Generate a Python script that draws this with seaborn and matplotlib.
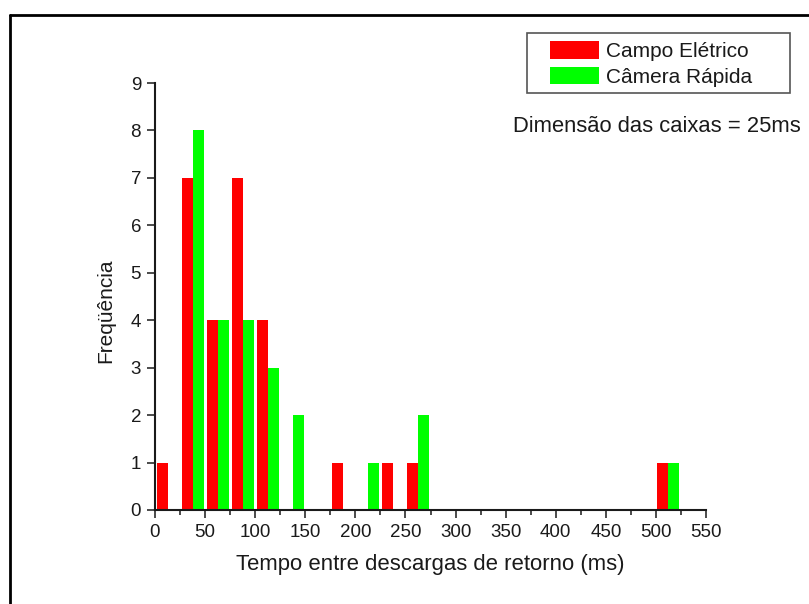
import pandas as pd
import matplotlib.pyplot as plt
from matplotlib.patches import Rectangle
from matplotlib.lines import Line2D
from matplotlib.ticker import MultipleLocator
import seaborn as sns

# Histogram data (bin width = 25 ms)
bin_centers = [12.5, 37.5, 62.5, 87.5, 112.5, 137.5, 187.5, 212.5, 237.5, 262.5, 512.5]
campo_eletrico = [1, 7, 4, 7, 4, 0, 1, 0, 1, 1, 1]
camera_rapida = [0, 8, 4, 4, 3, 2, 0, 1, 0, 2, 1]
series_names = ['Campo Elétrico', 'Câmera Rápida']
x_ticks = list(range(0, 551, 50))
y_ticks = list(range(0, 10))

df = pd.DataFrame({
    'tempo': bin_centers * 2,
    'freq': campo_eletrico + camera_rapida,
    'serie': [series_names[0]] * len(bin_centers) + [series_names[1]] * len(bin_centers),
})

sns.set_style('ticks')
plt.rcParams['font.family'] = ['Liberation Sans', 'DejaVu Sans']
txt = '#1a1a1a'

fig = plt.figure(figsize=(8.09, 6.04), dpi=100)
ax = fig.add_axes([155 / 809, 1 - 510 / 604, 551 / 809, 427 / 604])

sns.barplot(data=df, x='tempo', y='freq', hue='serie', hue_order=series_names,
            palette=['#ff0000', '#00ff00'], native_scale=True, dodge=True,
            width=0.88, errorbar=None, linewidth=0, saturation=1, ax=ax)

ax.set_xlim(0, 550)
ax.set_ylim(0, 9)
ax.set_xticks(x_ticks)
ax.set_yticks(y_ticks)
ax.xaxis.set_minor_locator(MultipleLocator(25))
ax.tick_params(axis='both', which='major', length=6, width=1.1, labelsize=13.5,
               colors=txt, pad=4)
ax.tick_params(axis='x', which='minor', length=3.5, width=1.1, color=txt)
for s in ['top', 'right']:
    ax.spines[s].set_visible(False)
for s in ['left', 'bottom']:
    ax.spines[s].set_linewidth(1.5)
    ax.spines[s].set_color(txt)

ax.set_xlabel('Tempo entre descargas de retorno (ms)', fontsize=15.9, color=txt)
ax.set_ylabel('Freqüência', fontsize=15, color=txt)
ax.xaxis.set_label_coords(0.5, -0.103)
ax.yaxis.set_label_coords(-0.0726, 0.466)

# legend, drawn without frame, plus a plain box around it
handles, labels = ax.get_legend_handles_labels()
ax.get_legend().remove()
fig.legend(handles, labels, loc='upper left', bbox_to_anchor=(550 / 809, 1 - 41 / 604),
           frameon=False, fontsize=15, handlelength=2.36, handleheight=0.92,
           handletextpad=0.34, labelspacing=0.28, borderpad=0, borderaxespad=0,
           labelcolor=txt)
fig.add_artist(Rectangle((527 / 809, 1 - 93 / 604), 263 / 809, 60 / 604,
                         transform=fig.transFigure, fill=False, edgecolor='#555555',
                         linewidth=1.2))

fig.text(801 / 809, 1 - 126 / 604, 'Dimensão das caixas = 25ms', ha='right', va='center',
         fontsize=15.8, color=txt)

# outer frame (left and top edges visible)
fig.add_artist(Line2D([10 / 809, 10 / 809], [0, 1 - 15 / 604], transform=fig.transFigure,
                      color='black', linewidth=2))
fig.add_artist(Line2D([10 / 809, 1], [1 - 15 / 604, 1 - 15 / 604], transform=fig.transFigure,
                      color='black', linewidth=2))

fig.savefig('out.png', dpi=100)
